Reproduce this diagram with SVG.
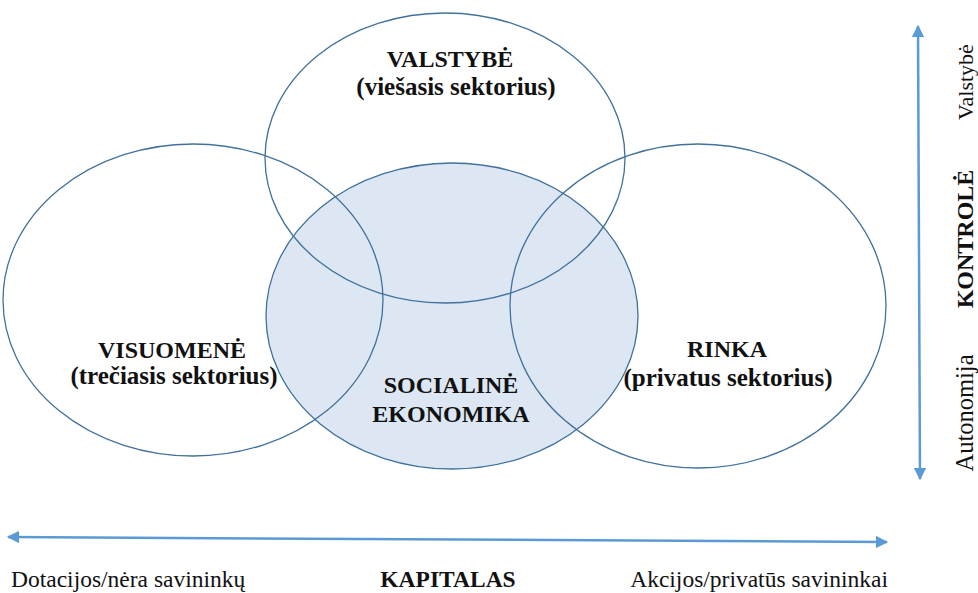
<svg xmlns="http://www.w3.org/2000/svg" width="978" height="593" viewBox="0 0 978 593">
<style>
.o{fill:none;stroke:#41719c;stroke-width:1.3}
.t{font-family:"Liberation Serif",serif;font-size:23.5px;fill:#111}
.b{font-weight:bold}
.c{font-size:24px}
.p{font-size:25px}
.ax{stroke:#5b9bd5;stroke-width:2.5;fill:none}
</style>
<defs>
<marker id="ah" viewBox="0 0 10 10" refX="9" refY="5" markerWidth="5" markerHeight="5" orient="auto-start-reverse" markerUnits="strokeWidth">
<path d="M0,0 L10,5 L0,10 z" fill="#5b9bd5"/>
</marker>
</defs>
<rect width="978" height="593" fill="#fff"/>
<g id="socialine-fill"><ellipse cx="452" cy="316" rx="186" ry="153" fill="#dce7f3"/></g>
<g id="valstybe">
<ellipse class="o" cx="445" cy="158" rx="180" ry="145"/>
<text class="t b c" x="450" y="67" text-anchor="middle">VALSTYBĖ</text>
<text class="t b p" x="456" y="95" text-anchor="middle">(viešasis sektorius)</text>
</g>
<g id="visuomene">
<ellipse class="o" cx="193" cy="300" rx="190" ry="156"/>
<text class="t b c" x="172" y="358" text-anchor="middle">VISUOMENĖ</text>
<text class="t b p" x="174" y="384" text-anchor="middle">(trečiasis sektorius)</text>
</g>
<g id="rinka">
<ellipse class="o" cx="698" cy="306" rx="188" ry="162"/>
<text class="t b c" x="727" y="357" text-anchor="middle">RINKA</text>
<text class="t b p" x="728" y="386" text-anchor="middle">(privatus sektorius)</text>
</g>
<g id="socialine">
<ellipse class="o" cx="452" cy="316" rx="186" ry="153"/>
<text class="t b c" x="451" y="393" text-anchor="middle">SOCIALINĖ</text>
<text class="t b c" x="451" y="422" text-anchor="middle">EKONOMIKA</text>
</g>
<g id="connectors">
<line class="ax" x1="918" y1="26" x2="920" y2="479" marker-start="url(#ah)" marker-end="url(#ah)"/>
<line class="ax" x1="8" y1="537" x2="887" y2="542" marker-start="url(#ah)" marker-end="url(#ah)"/>
</g>
<g id="kontrole-labels">
<text class="t" style="font-size:22px" transform="translate(973,82) rotate(-90)" text-anchor="middle">Valstybė</text>
<text class="t b c" transform="translate(973,239) rotate(-90)" text-anchor="middle">KONTROLĖ</text>
<text class="t" style="font-size:24.5px" transform="translate(973,413) rotate(-90)" text-anchor="middle">Autonomija</text>
</g>
<g id="kapitalas-labels">
<text class="t" x="11" y="587">Dotacijos/nėra savininkų</text>
<text class="t b" x="448" y="587" text-anchor="middle">KAPITALAS</text>
<text class="t" x="888" y="587" text-anchor="end">Akcijos/privatūs savininkai</text>
</g>
</svg>
